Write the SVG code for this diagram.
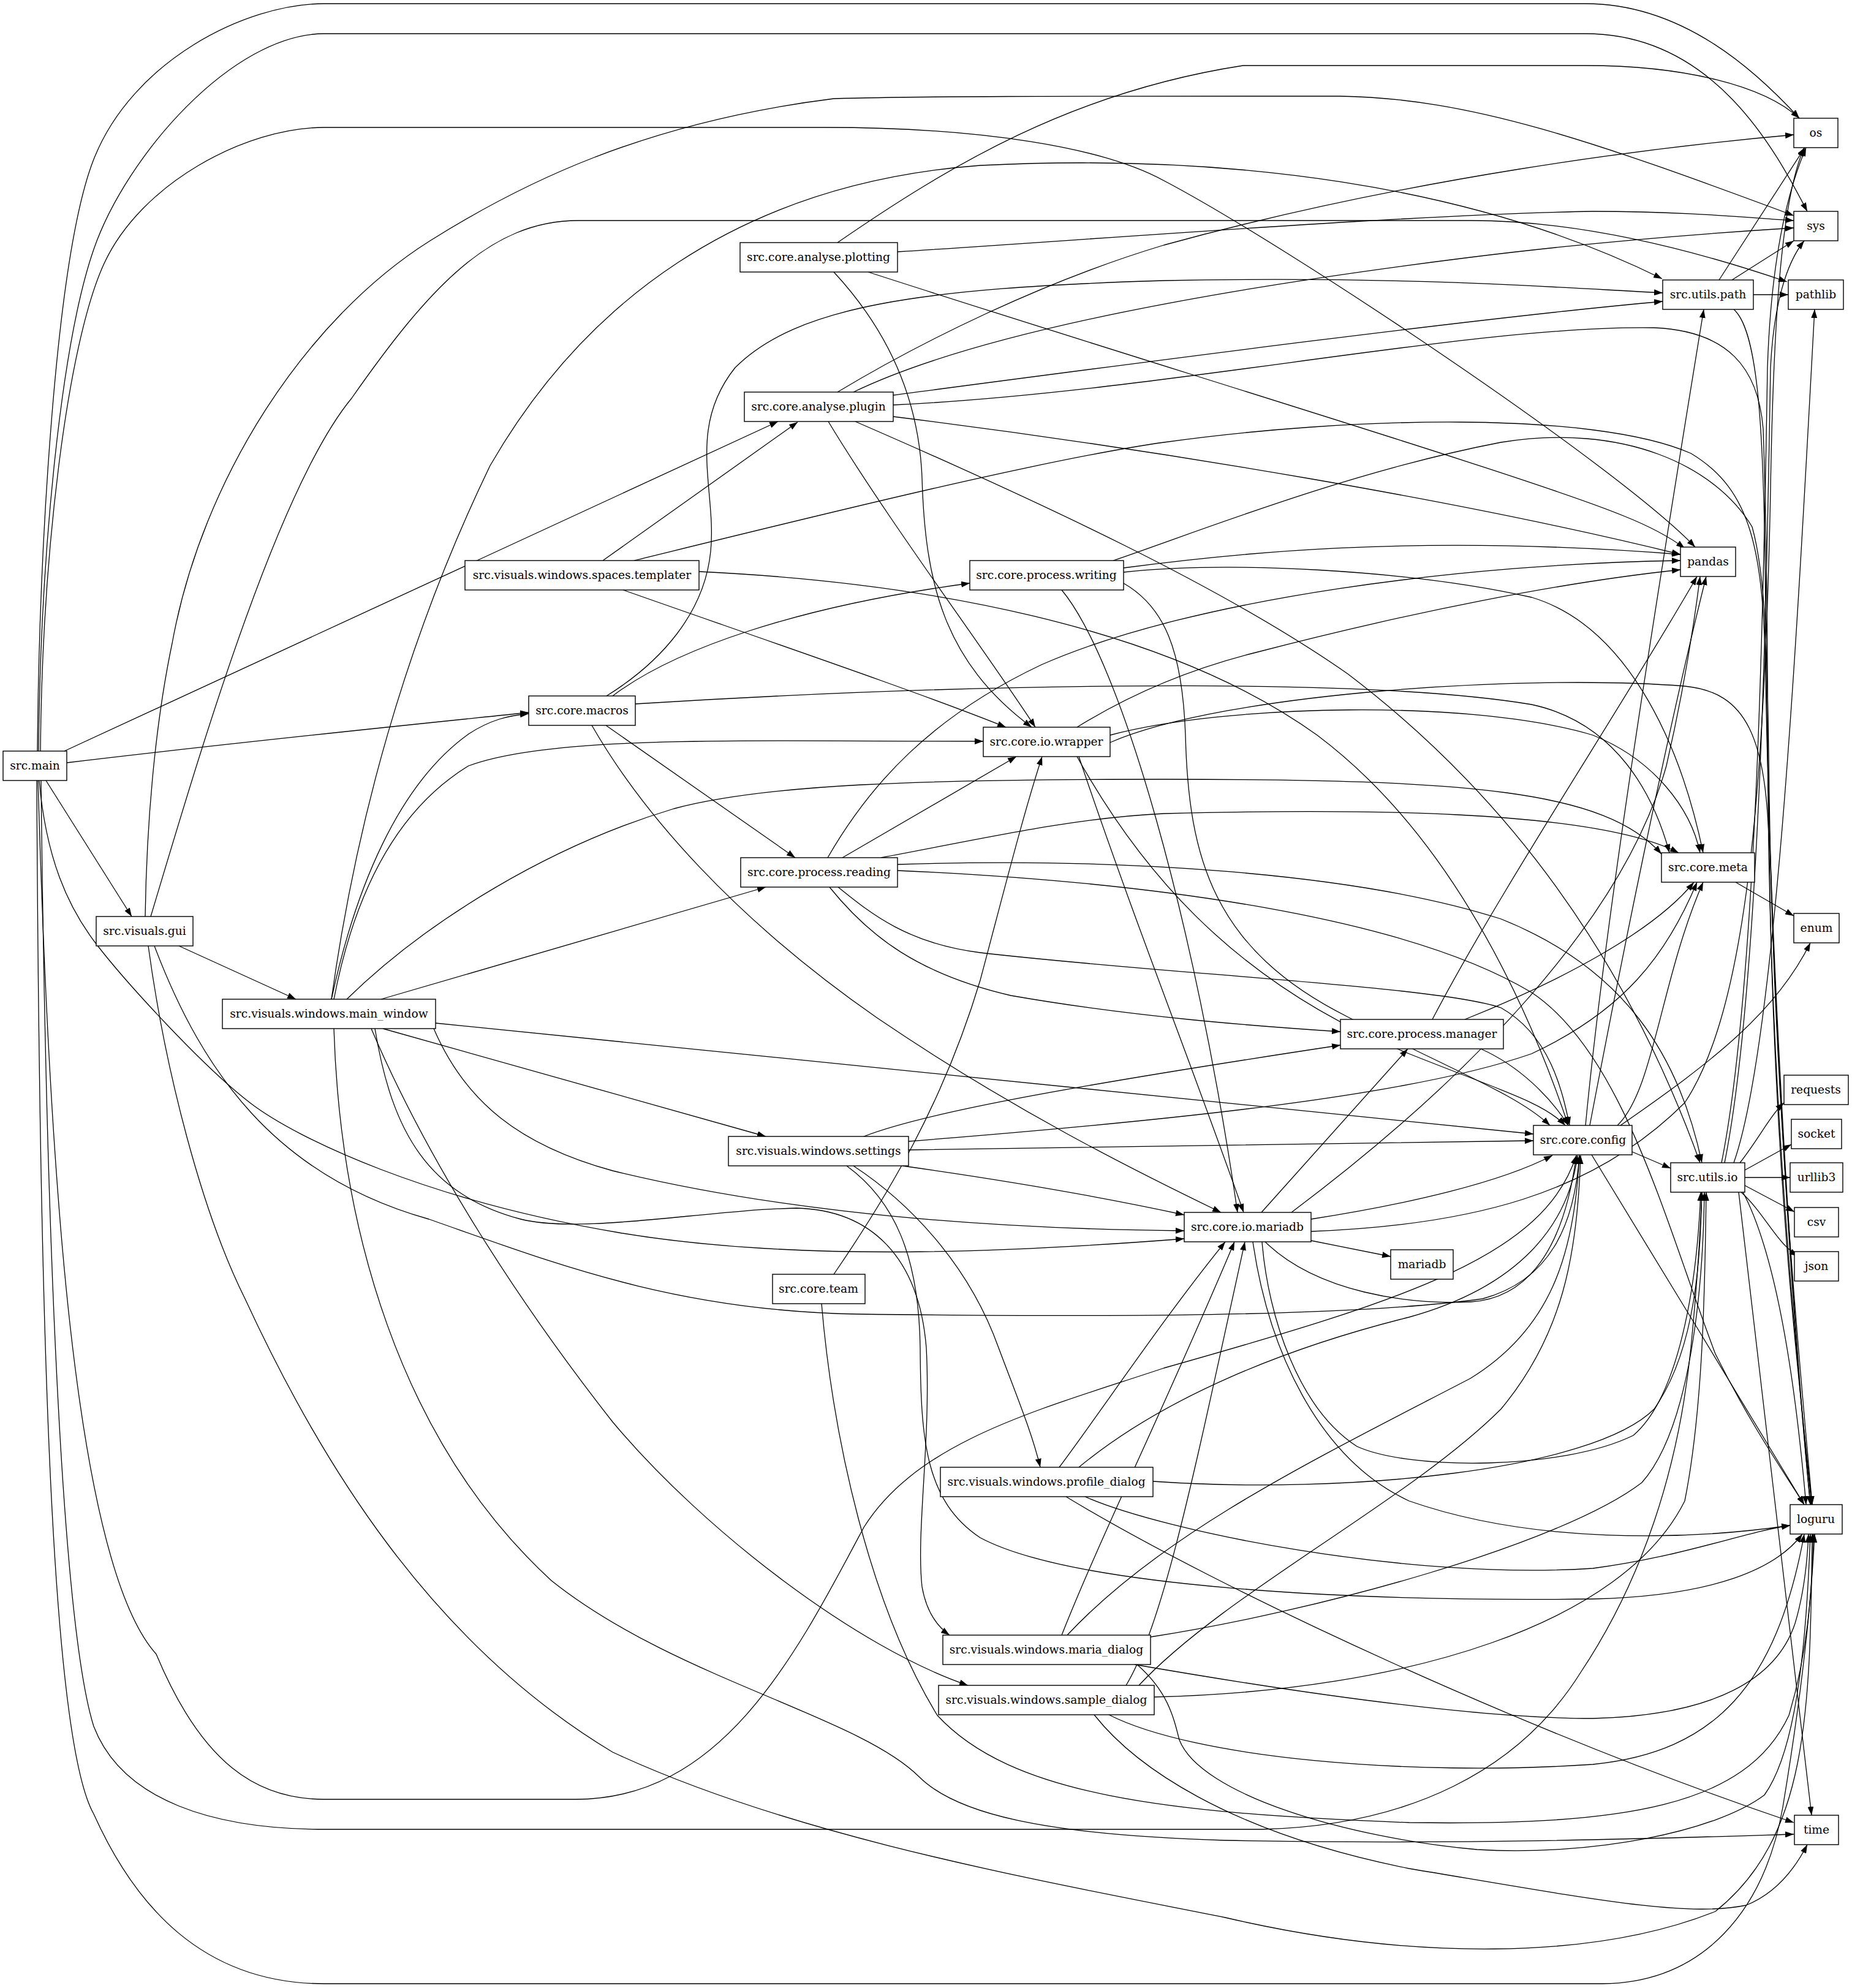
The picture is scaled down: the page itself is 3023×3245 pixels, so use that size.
<svg xmlns="http://www.w3.org/2000/svg" width="3023" height="3245" viewBox="0 0 3023 3245">
<defs>
<marker id="ah" markerUnits="userSpaceOnUse" markerWidth="14" markerHeight="10" refX="14" refY="5" orient="auto"><path d="M0,0 L14,5 L0,10 Z" fill="#000"/></marker>
<style>
.n rect{fill:#fff;stroke:#000;stroke-width:1.4}
.n text{font-family:"DejaVu Serif","Liberation Serif",serif;font-size:18.67px;text-anchor:middle;fill:#000}
#edges path{fill:none;stroke:#000;stroke-width:1.3;marker-end:url(#ah)}
</style>
</defs>
<rect width="3023" height="3245" fill="#fff"/>
<g id="edges">
<path d="M61,1226 C64,900 90,420 153,260 C216,100 400,6 529,6 L2588,6 C2750,6 2870,120 2937,193"/>
<path d="M63,1226 C66,900 100,560 153,407 C206,254 380,55 529,55 L2588,55 C2800,55 2900,250 2950,345"/>
<path d="M66,1226 C69,900 110,560 170,430 C230,300 400,208 529,208 L1347,208 C1600,208 1800,240 1900,295 C2100,400 2640,760 2767,893"/>
<path d="M105,1226 L1270,688"/>
<path d="M109,1245 C400,1210 700,1180 863,1163"/>
<path d="M75,1274 L215,1496"/>
<path d="M64,1274 C75,1400 110,1480 158,1542 C206,1604 330,1740 408,1800 C486,1860 700,1960 1010,2012 C1320,2064 1700,2040 1933,2022"/>
<path d="M62,1274 C80,1900 120,2550 255,2700 C330,2880 420,2937 529,2937 L940,2937 C1180,2937 1300,2700 1410,2493 C1500,2350 1700,2300 1900,2233 C2300,2120 2520,2050 2573,1886"/>
<path d="M67,1274 C75,2000 100,2650 153,2818 C200,2940 350,2986 529,2986 L2060,2986 C2300,2980 2480,2890 2580,2730 C2680,2580 2740,2400 2760,2200 C2770,2100 2775,2020 2778,1946"/>
<path d="M60,1274 C65,2300 90,2850 153,2961 C220,3110 330,3238 529,3238 L2616,3238 C2780,3236 2880,3120 2910,2950 C2935,2800 2955,2650 2962,2504"/>
<path d="M292,1544 L483,1631"/>
<path d="M237,1496 C240,1300 260,1150 281,1050 C330,780 500,520 702,393 C850,300 1050,200 1361,161 C1500,157 1700,157 2187,157 C2400,160 2600,230 2928,352"/>
<path d="M246,1496 C320,1250 450,800 574,650 C700,470 800,360 944,360 L2401,360 C2600,360 2800,420 2917,460"/>
<path d="M242,1544 C270,1750 330,1980 400,2120 C520,2380 700,2680 1000,2860 C1300,3000 1700,3070 2000,3130 C2300,3200 2600,3200 2800,3120 C2950,3000 2955,2800 2958,2504"/>
<path d="M252,1544 C330,1750 450,1920 700,1990 C900,2060 1100,2140 1400,2145 C1800,2150 2200,2150 2420,2120 C2530,2090 2570,2000 2578,1886"/>
<path d="M541,1631 C580,1450 650,1280 765,1198 C800,1175 830,1168 863,1165"/>
<path d="M545,1631 C580,1450 650,1320 765,1250 C900,1200 1200,1210 1605,1210"/>
<path d="M541,1631 C580,1350 660,1050 800,760 C950,500 1200,300 1600,270 C2000,250 2400,300 2713,455"/>
<path d="M566,1631 C700,1500 900,1380 1100,1320 C1250,1280 1500,1272 1900,1272 C2400,1272 2620,1290 2712,1394"/>
<path d="M622,1631 L1250,1448"/>
<path d="M625,1679 L1250,1855"/>
<path d="M711,1670 L2503,1851"/>
<path d="M708,1679 C760,1800 850,1870 1000,1911 C1200,1960 1500,2005 1933,2009"/>
<path d="M606,1679 C700,1900 850,2130 1000,2321 C1150,2500 1400,2690 1580,2751"/>
<path d="M612,1679 C640,1850 700,1950 850,1990 C950,2015 1150,1975 1300,1972 C1420,1975 1500,2050 1512,2200 C1520,2350 1495,2500 1505,2590 C1512,2630 1530,2655 1550,2669"/>
<path d="M545,1679 C555,2000 650,2350 900,2580 C1100,2740 1400,2800 1500,2900 C1560,2960 1700,2995 2000,3004 C2400,3012 2762,2999 2928,2994"/>
<path d="M984,915 L1302,689"/>
<path d="M1035,915 C1300,850 1700,750 1900,722 C2200,680 2600,670 2760,740 C2860,800 2878,900 2882,1100 C2890,1600 2930,2200 2955,2456"/>
<path d="M1141,933 C1500,950 1900,1020 2150,1200 C2350,1350 2480,1600 2560,1837"/>
<path d="M1017,963 C1250,1045 1500,1130 1642,1187"/>
<path d="M990,1136 C1080,1080 1150,1000 1160,900 C1170,800 1120,700 1200,600 C1300,500 1500,470 1900,458 C2300,450 2550,470 2714,478"/>
<path d="M1000,1136 C1100,1060 1300,990 1583,952"/>
<path d="M989,1184 L1298,1400"/>
<path d="M1037,1149 C1500,1120 2200,1100 2500,1150 C2640,1180 2700,1300 2725,1392"/>
<path d="M966,1184 C1050,1330 1200,1500 1431,1661 C1650,1810 1850,1910 1993,1979"/>
<path d="M1367,396 C1550,270 1750,150 2029,107 L2588,107 C2750,107 2880,140 2937,193"/>
<path d="M1465,411 C1800,390 2300,350 2600,345 C2750,345 2850,355 2928,360"/>
<path d="M1417,444 C1900,600 2500,780 2650,842 C2700,862 2730,880 2750,895"/>
<path d="M1361,444 C1450,540 1500,650 1505,780 C1510,950 1540,1080 1684,1187"/>
<path d="M1367,640 C1500,560 1700,460 1900,400 C2300,290 2700,240 2928,220"/>
<path d="M1393,640 C1600,540 2000,470 2400,420 C2600,395 2800,380 2928,372"/>
<path d="M1458,645 C1800,600 2400,520 2714,492"/>
<path d="M1458,661 C1900,640 2400,530 2700,535 C2820,540 2870,600 2878,700 C2885,900 2885,1100 2886,1300 C2890,1800 2935,2250 2957,2456"/>
<path d="M1458,680 C1900,735 2400,820 2743,905"/>
<path d="M1396,688 C1700,820 2000,960 2200,1100 C2450,1290 2650,1550 2775,1898"/>
<path d="M1352,688 C1450,850 1600,1050 1690,1187"/>
<path d="M1351,1400 C1420,1280 1520,1170 1700,1085 C1950,975 2400,920 2743,915"/>
<path d="M1375,1400 C1480,1340 1580,1280 1659,1235"/>
<path d="M1438,1400 C1600,1370 1750,1335 1900,1328 C2200,1320 2600,1320 2740,1392"/>
<path d="M1465,1411 C1800,1400 2200,1420 2450,1500 C2650,1580 2740,1720 2778,1898"/>
<path d="M1465,1421 C1900,1440 2300,1500 2500,1620 C2650,1720 2720,2000 2800,2210 C2860,2330 2910,2400 2945,2456"/>
<path d="M1368,1448 C1420,1490 1480,1540 1600,1555 C1900,1590 2350,1610 2450,1645 C2530,1690 2550,1780 2562,1837"/>
<path d="M1354,1448 C1420,1530 1500,1590 1650,1625 C1850,1660 2050,1675 2188,1684"/>
<path d="M1410,1855 C1500,1820 1700,1780 2188,1706"/>
<path d="M1483,1863 C1900,1830 2300,1790 2500,1720 C2650,1650 2720,1560 2770,1440"/>
<path d="M1483,1877 C1900,1870 2200,1865 2503,1862"/>
<path d="M1473,1903 C1700,1935 1850,1965 1933,1983"/>
<path d="M1393,1903 C1480,1960 1580,2060 1630,2200 C1660,2280 1685,2340 1698,2395"/>
<path d="M1382,1903 C1460,1960 1500,2050 1502,2200 C1503,2350 1510,2450 1600,2510 C1750,2590 2200,2615 2600,2610 C2800,2605 2900,2560 2942,2504"/>
<path d="M1361,2080 C1450,1950 1540,1800 1600,1600 C1640,1450 1670,1330 1701,1235"/>
<path d="M1341,2128 C1360,2350 1420,2620 1530,2800 C1650,2930 1900,2960 2300,2975 C2650,2980 2850,2950 2920,2800 C2950,2700 2958,2600 2960,2504"/>
<path d="M1817,915 C1950,870 2200,770 2450,722 C2650,690 2800,760 2860,860 C2885,950 2885,1100 2888,1300 C2895,1800 2940,2250 2958,2456"/>
<path d="M1834,927 C2000,905 2300,870 2743,905"/>
<path d="M1834,934 C2000,915 2300,930 2500,975 C2650,1020 2740,1200 2780,1392"/>
<path d="M1834,952 C1900,990 1930,1060 1935,1200 C1940,1400 1980,1550 2200,1660 C2400,1760 2480,1790 2530,1837"/>
<path d="M1733,963 C1830,1080 1950,1500 2020,1979"/>
<path d="M1758,1187 C1850,1130 1950,1090 2050,1065 C2300,1000 2550,950 2743,930"/>
<path d="M1812,1200 C2000,1150 2400,1140 2600,1200 C2700,1240 2760,1320 2775,1392"/>
<path d="M1812,1212 C2000,1130 2500,1100 2750,1120 C2850,1130 2885,1200 2888,1400 C2895,1900 2935,2250 2958,2456"/>
<path d="M1758,1235 C1850,1400 2000,1600 2300,1720 C2450,1780 2520,1800 2555,1837"/>
<path d="M1761,1235 C1850,1500 1950,1750 2030,1979"/>
<path d="M1729,2395 C1800,2300 1900,2150 2000,2027"/>
<path d="M1761,2395 C1900,2280 2100,2200 2300,2150 C2480,2100 2560,2000 2575,1886"/>
<path d="M1882,2418 C2200,2440 2600,2400 2700,2300 C2770,2200 2775,2050 2778,1946"/>
<path d="M1771,2443 C1900,2500 2300,2580 2600,2560 C2750,2540 2850,2500 2922,2490"/>
<path d="M1740,2443 C2000,2600 2500,2830 2928,2975"/>
<path d="M1733,2669 C1800,2500 1900,2300 2015,2027"/>
<path d="M1742,2669 C1900,2500 2150,2380 2400,2250 C2530,2170 2570,2050 2578,1886"/>
<path d="M1852,2717 C2100,2760 2400,2805 2600,2805 C2800,2800 2900,2740 2930,2650 C2945,2600 2950,2550 2952,2504"/>
<path d="M1856,2717 C1905,2760 1915,2800 1925,2840 C1960,2930 2200,3000 2411,3019 C2600,3030 2800,2990 2880,2930 C2930,2860 2948,2700 2955,2504"/>
<path d="M1878,2672 C2150,2630 2550,2520 2680,2420 C2760,2330 2780,2100 2782,1946"/>
<path d="M1838,2751 C1900,2650 1950,2400 2032,2027"/>
<path d="M1859,2751 C2000,2600 2300,2450 2450,2300 C2550,2180 2575,2050 2580,1886"/>
<path d="M1884,2770 C2300,2760 2650,2650 2750,2450 C2780,2300 2783,2100 2785,1946"/>
<path d="M1810,2799 C1950,2870 2300,2900 2600,2880 C2800,2860 2900,2750 2945,2504"/>
<path d="M1786,2799 C1850,2880 2000,2990 2300,3050 C2600,3100 2750,3130 2850,3110 C2900,3090 2930,3050 2950,3011"/>
<path d="M2059,1979 L2298,1712"/>
<path d="M2140,2025 L2270,2051"/>
<path d="M2140,1990 C2300,1965 2450,1930 2534,1886"/>
<path d="M2065,2027 C2150,2110 2300,2130 2401,2125 C2480,2120 2550,2060 2573,1886"/>
<path d="M2060,2027 C2070,2150 2120,2300 2215,2361 C2300,2400 2550,2400 2666,2343 C2740,2280 2770,2100 2776,1946"/>
<path d="M2045,2027 C2070,2200 2150,2380 2300,2450 C2500,2520 2750,2515 2922,2490"/>
<path d="M2108,1979 C2400,1760 2650,1500 2720,1250 C2750,1120 2765,1020 2775,941"/>
<path d="M2140,2010 C2400,2000 2600,1950 2750,1800 C2850,1650 2880,1300 2890,800 C2895,500 2910,320 2945,241"/>
<path d="M2338,1664 C2450,1450 2650,1150 2770,941"/>
<path d="M2391,1664 C2550,1600 2700,1520 2765,1440"/>
<path d="M2417,1712 C2480,1740 2530,1790 2560,1837"/>
<path d="M2588,1837 C2620,1500 2700,1000 2781,505"/>
<path d="M2595,1837 C2640,1600 2720,1200 2785,941"/>
<path d="M2640,1837 C2700,1780 2710,1600 2780,1440"/>
<path d="M2645,1837 C2800,1730 2900,1650 2955,1539"/>
<path d="M2664,1880 L2727,1907"/>
<path d="M2598,1885 C2700,2050 2850,2300 2945,2456"/>
<path d="M2806,457 L2946,241"/>
<path d="M2827,457 L2928,393"/>
<path d="M2862,481 L2919,481"/>
<path d="M2830,505 C2870,540 2880,700 2882,1000 C2885,1600 2930,2200 2955,2456"/>
<path d="M2833,1440 L2928,1495"/>
<path d="M2810,1898 C2870,1600 2880,900 2885,600 C2890,450 2910,330 2948,241"/>
<path d="M2815,1898 C2875,1600 2885,900 2890,600 C2895,500 2915,430 2945,393"/>
<path d="M2830,1898 C2900,1700 2935,1000 2962,505"/>
<path d="M2840,1898 C2870,1860 2890,1820 2912,1800"/>
<path d="M2848,1910 L2924,1868"/>
<path d="M2848,1922 L2922,1922"/>
<path d="M2848,1935 L2929,1978"/>
<path d="M2842,1946 C2880,1980 2900,2030 2935,2050"/>
<path d="M2845,1946 C2900,2050 2930,2250 2948,2456"/>
<path d="M2838,1946 L2957,2963"/>
</g>
<g id="n_main" class="n"><rect x="5" y="1226" width="104" height="48"/><text x="57" y="1256">src.main</text></g>
<g id="n_gui" class="n"><rect x="157" y="1496" width="158" height="48"/><text x="236" y="1526">src.visuals.gui</text></g>
<g id="n_main_window" class="n"><rect x="363" y="1631" width="348" height="48"/><text x="537" y="1661">src.visuals.windows.main_window</text></g>
<g id="n_templater" class="n"><rect x="759" y="915" width="382" height="48"/><text x="950" y="945">src.visuals.windows.spaces.templater</text></g>
<g id="n_macros" class="n"><rect x="863" y="1136" width="174" height="48"/><text x="950" y="1166">src.core.macros</text></g>
<g id="n_plotting" class="n"><rect x="1208" y="396" width="257" height="48"/><text x="1336" y="426">src.core.analyse.plotting</text></g>
<g id="n_plugin" class="n"><rect x="1215" y="640" width="243" height="48"/><text x="1336" y="670">src.core.analyse.plugin</text></g>
<g id="n_reading" class="n"><rect x="1209" y="1400" width="256" height="48"/><text x="1337" y="1430">src.core.process.reading</text></g>
<g id="n_settings" class="n"><rect x="1189" y="1855" width="294" height="48"/><text x="1336" y="1885">src.visuals.windows.settings</text></g>
<g id="n_team" class="n"><rect x="1261" y="2080" width="151" height="48"/><text x="1336" y="2110">src.core.team</text></g>
<g id="n_writing" class="n"><rect x="1583" y="915" width="251" height="48"/><text x="1708" y="945">src.core.process.writing</text></g>
<g id="n_wrapper" class="n"><rect x="1605" y="1187" width="207" height="48"/><text x="1708" y="1217">src.core.io.wrapper</text></g>
<g id="n_profile" class="n"><rect x="1535" y="2395" width="347" height="48"/><text x="1708" y="2425">src.visuals.windows.profile_dialog</text></g>
<g id="n_maria" class="n"><rect x="1539" y="2669" width="339" height="48"/><text x="1708" y="2699">src.visuals.windows.maria_dialog</text></g>
<g id="n_sample" class="n"><rect x="1532" y="2751" width="352" height="48"/><text x="1708" y="2781">src.visuals.windows.sample_dialog</text></g>
<g id="n_io_mariadb" class="n"><rect x="1933" y="1979" width="207" height="48"/><text x="2036" y="2009">src.core.io.mariadb</text></g>
<g id="n_manager" class="n"><rect x="2188" y="1664" width="266" height="48"/><text x="2321" y="1694">src.core.process.manager</text></g>
<g id="n_mariadb" class="n"><rect x="2270" y="2040" width="102" height="48"/><text x="2321" y="2070">mariadb</text></g>
<g id="n_config" class="n"><rect x="2503" y="1837" width="161" height="48"/><text x="2584" y="1867">src.core.config</text></g>
<g id="n_utils_path" class="n"><rect x="2714" y="457" width="148" height="48"/><text x="2788" y="487">src.utils.path</text></g>
<g id="n_pandas" class="n"><rect x="2743" y="893" width="90" height="48"/><text x="2788" y="923">pandas</text></g>
<g id="n_meta" class="n"><rect x="2712" y="1392" width="152" height="48"/><text x="2788" y="1422">src.core.meta</text></g>
<g id="n_utils_io" class="n"><rect x="2727" y="1898" width="121" height="48"/><text x="2787" y="1928">src.utils.io</text></g>
<g id="n_os" class="n"><rect x="2928" y="193" width="72" height="48"/><text x="2964" y="223">os</text></g>
<g id="n_sys" class="n"><rect x="2928" y="345" width="72" height="48"/><text x="2964" y="375">sys</text></g>
<g id="n_pathlib" class="n"><rect x="2919" y="457" width="90" height="48"/><text x="2964" y="487">pathlib</text></g>
<g id="n_enum" class="n"><rect x="2928" y="1491" width="74" height="48"/><text x="2965" y="1521">enum</text></g>
<g id="n_requests" class="n"><rect x="2912" y="1755" width="105" height="48"/><text x="2964" y="1785">requests</text></g>
<g id="n_socket" class="n"><rect x="2924" y="1827" width="82" height="48"/><text x="2965" y="1857">socket</text></g>
<g id="n_urllib3" class="n"><rect x="2922" y="1898" width="86" height="48"/><text x="2965" y="1928">urllib3</text></g>
<g id="n_csv" class="n"><rect x="2929" y="1971" width="72" height="48"/><text x="2965" y="2001">csv</text></g>
<g id="n_json" class="n"><rect x="2929" y="2043" width="72" height="48"/><text x="2965" y="2073">json</text></g>
<g id="n_loguru" class="n"><rect x="2922" y="2456" width="85" height="48"/><text x="2964" y="2486">loguru</text></g>
<g id="n_time" class="n"><rect x="2929" y="2963" width="72" height="48"/><text x="2965" y="2993">time</text></g>
</svg>
